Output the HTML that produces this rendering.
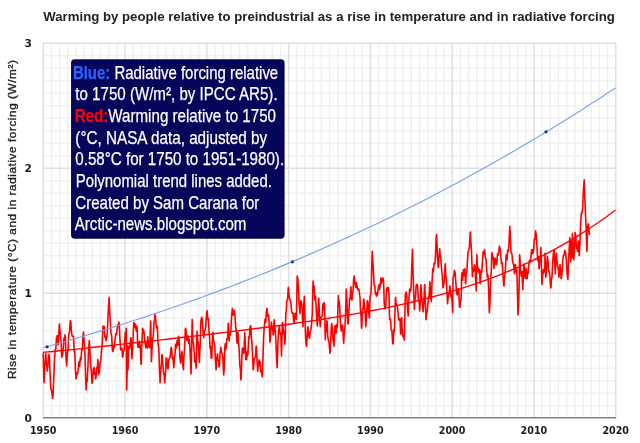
<!DOCTYPE html>
<html><head><meta charset="utf-8"><style>
html,body{margin:0;padding:0;background:#fff;}
body{width:640px;height:443px;overflow:hidden;position:relative;font-family:"Liberation Sans",Arial,sans-serif;}
svg{position:absolute;left:0;top:0;will-change:transform;}
.ax{font:bold 10.6px "DejaVu Sans","Liberation Sans",sans-serif;fill:#1a1a1a;}
.title{font:bold 13.4px "Liberation Sans",Arial,sans-serif;fill:#222;}
.ylab{font:11.8px "Liberation Sans",Arial,sans-serif;fill:#222;stroke:#222;stroke-width:0.35px;}
.bx{font:19px "Liberation Sans",Arial,sans-serif;fill:#fff;stroke:#fff;stroke-width:0.25px;}
.bl{fill:#2e62ff;stroke:#2e62ff;font-weight:bold;}
.rd{fill:#ff0000;stroke:#ff0000;font-weight:bold;}
</style></head><body>
<svg width="640" height="443" viewBox="0 0 640 443">
<path d="M51.48 43V418M59.66 43V418M67.84 43V418M76.01 43V418M84.19 43V418M92.37 43V418M100.55 43V418M108.73 43V418M116.91 43V418M133.26 43V418M141.44 43V418M149.62 43V418M157.80 43V418M165.98 43V418M174.16 43V418M182.34 43V418M190.51 43V418M198.69 43V418M215.05 43V418M223.23 43V418M231.41 43V418M239.59 43V418M247.76 43V418M255.94 43V418M264.12 43V418M272.30 43V418M280.48 43V418M296.84 43V418M305.01 43V418M313.19 43V418M321.37 43V418M329.55 43V418M337.73 43V418M345.91 43V418M354.09 43V418M362.26 43V418M378.62 43V418M386.80 43V418M394.98 43V418M403.16 43V418M411.34 43V418M419.51 43V418M427.69 43V418M435.87 43V418M444.05 43V418M460.41 43V418M468.59 43V418M476.76 43V418M484.94 43V418M493.12 43V418M501.30 43V418M509.48 43V418M517.66 43V418M525.84 43V418M542.19 43V418M550.37 43V418M558.55 43V418M566.73 43V418M574.91 43V418M583.09 43V418M591.26 43V418M599.44 43V418M607.62 43V418" stroke="#eeeeee" stroke-width="1.3" fill="none"/>
<path d="M43 405.80H616M43 393.30H616M43 380.80H616M43 368.30H616M43 355.80H616M43 343.30H616M43 330.80H616M43 318.30H616M43 305.80H616M43 280.80H616M43 268.30H616M43 255.80H616M43 243.30H616M43 230.80H616M43 218.30H616M43 205.80H616M43 193.30H616M43 180.80H616M43 155.80H616M43 143.30H616M43 130.80H616M43 118.30H616M43 105.80H616M43 93.30H616M43 80.80H616M43 68.30H616M43 55.80H616" stroke="#f2f2f2" stroke-width="1.5" fill="none"/>
<path d="M43.30 43V418M125.09 43V418M206.87 43V418M288.66 43V418M370.44 43V418M452.23 43V418M534.01 43V418M615.80 43V418M43 418.30H616M43 293.30H616M43 168.30H616M43 43.30H616" stroke="#dfdfdf" stroke-width="1.5" fill="none"/>
<path d="M43.20 353.0 L43.54 367.6 L44.00 382.6 L44.90 364.8 L45.80 353.7 L46.27 363.1 L46.95 366.3 L47.20 371.0 L47.63 368.4 L48.40 358.0 L48.99 354.3 L49.50 360.0 L50.36 380.0 L50.80 387.7 L51.72 391.3 L52.60 398.5 L53.08 394.1 L54.00 371.8 L54.45 360.0 L55.20 350.0 L55.81 348.6 L56.49 337.8 L57.30 335.5 L58.00 345.0 L58.53 341.3 L59.22 325.5 L59.50 324.0 L59.90 330.4 L60.50 335.0 L61.26 344.9 L61.70 357.3 L62.62 354.8 L63.50 345.0 L63.99 338.4 L64.67 341.4 L65.00 334.8 L65.35 337.8 L66.03 358.7 L66.70 366.0 L67.39 353.7 L68.08 349.6 L68.50 340.0 L68.76 334.0 L69.44 332.6 L70.30 320.6 L70.80 321.8 L71.50 332.0 L72.17 336.1 L73.00 336.0 L73.53 336.6 L74.21 351.8 L74.50 350.0 L74.89 355.2 L75.57 372.6 L76.10 379.0 L76.94 372.7 L77.62 373.9 L78.30 369.0 L78.98 361.6 L79.66 366.4 L80.00 362.0 L80.34 357.9 L81.03 359.7 L81.71 349.5 L82.00 350.0 L82.39 350.0 L83.07 334.9 L83.50 332.0 L83.75 336.9 L84.50 345.0 L85.12 359.0 L85.80 382.0 L86.20 389.9 L86.48 382.9 L87.16 381.3 L88.00 365.0 L88.52 351.2 L89.30 340.6 L90.00 352.0 L90.57 363.6 L91.25 370.1 L92.00 383.4 L92.61 381.0 L93.29 369.1 L94.20 367.5 L94.66 374.4 L95.34 372.9 L95.60 379.0 L96.02 377.0 L96.70 367.6 L97.38 367.7 L97.80 359.5 L98.06 361.7 L98.50 374.7 L99.43 371.4 L100.11 361.9 L100.50 362.0 L100.79 361.1 L101.47 350.8 L102.00 348.0 L103.00 326.0 L103.52 329.7 L104.20 326.4 L104.50 332.0 L104.88 337.3 L105.56 336.1 L106.00 340.6 L106.92 336.9 L107.50 328.0 L108.29 310.7 L109.10 297.2 L109.65 310.3 L110.20 320.0 L111.00 333.0 L111.70 335.9 L112.38 350.4 L113.00 351.6 L113.74 345.7 L114.42 347.7 L115.00 340.0 L115.78 333.9 L116.47 334.5 L117.00 330.0 L117.83 324.8 L118.51 325.8 L118.80 322.0 L119.19 323.8 L120.00 340.0 L120.56 348.8 L121.00 350.0 L121.92 348.3 L122.60 357.1 L123.00 356.0 L123.28 351.3 L123.96 351.3 L124.50 345.0 L125.33 332.4 L126.01 335.8 L126.30 328.3 L126.70 389.9 L127.37 362.5 L127.90 345.8 L128.00 370.0 L128.50 347.0 L129.42 348.8 L130.00 345.0 L130.80 337.7 L131.00 337.7 L131.46 345.9 L131.90 358.8 L132.82 344.6 L133.70 323.2 L134.19 322.6 L134.87 327.4 L135.55 324.2 L135.80 327.6 L136.23 331.2 L136.91 326.4 L137.30 332.0 L137.59 342.5 L138.00 347.2 L138.28 342.7 L138.96 347.3 L139.50 341.4 L140.32 347.7 L141.00 364.3 L141.30 363.8 L141.68 348.6 L142.60 328.3 L143.05 332.5 L143.73 330.2 L144.50 337.7 L145.09 343.7 L146.00 347.8 L146.45 343.2 L147.14 348.2 L147.82 336.9 L148.10 340.6 L148.50 346.7 L149.18 344.2 L149.60 347.8 L149.86 344.2 L150.70 321.0 L151.40 361.7 L151.91 350.4 L152.70 338.0 L153.27 336.9 L153.95 322.7 L154.63 319.8 L154.90 314.6 L155.31 315.3 L156.10 324.7 L156.68 328.1 L157.10 327.6 L157.36 326.6 L158.04 344.2 L158.72 347.7 L159.00 353.6 L159.40 367.5 L160.10 382.6 L160.77 369.8 L161.45 363.9 L161.80 354.5 L162.13 355.2 L162.90 364.6 L163.49 372.2 L164.17 375.4 L164.70 382.6 L165.54 372.3 L166.20 358.0 L166.90 358.3 L167.58 368.6 L168.10 368.9 L168.95 359.0 L169.50 358.8 L170.31 356.0 L171.20 347.2 L171.67 348.9 L172.35 358.7 L172.70 358.8 L173.03 357.3 L173.72 367.7 L174.10 364.6 L174.40 358.7 L175.08 353.1 L175.60 344.3 L176.30 348.0 L177.12 340.4 L177.50 342.0 L177.81 345.1 L178.50 336.2 L179.17 340.1 L179.85 357.4 L180.60 363.0 L181.21 356.3 L182.00 351.6 L182.58 362.8 L183.50 369.6 L183.94 356.2 L184.62 347.2 L185.40 328.3 L185.98 329.4 L186.67 339.1 L187.10 340.6 L188.03 335.7 L188.71 343.5 L189.30 339.1 L190.07 350.7 L191.00 374.0 L191.44 358.4 L192.20 319.6 L192.90 340.6 L193.48 343.6 L194.40 354.5 L194.84 362.1 L195.53 360.7 L196.20 368.2 L197.00 331.2 L197.57 339.7 L198.25 342.7 L198.70 350.7 L199.40 362.4 L200.30 340.9 L200.90 321.0 L201.66 317.4 L202.30 318.9 L203.02 331.6 L203.80 337.7 L204.39 331.1 L205.20 330.5 L205.75 325.7 L206.60 312.4 L207.11 310.7 L207.79 319.8 L208.10 318.2 L208.48 319.0 L209.16 334.3 L209.50 336.2 L210.00 348.0 L210.52 346.8 L211.20 358.2 L211.70 358.2 L212.56 336.0 L212.90 332.2 L213.25 339.1 L214.00 342.0 L214.61 344.2 L215.00 351.0 L215.29 358.4 L216.10 369.8 L216.65 358.6 L217.50 353.9 L218.02 360.2 L218.70 361.6 L219.00 366.9 L219.38 366.2 L220.06 353.8 L220.80 347.4 L221.42 352.1 L222.30 353.9 L222.79 356.9 L223.70 374.9 L224.15 369.8 L224.83 347.7 L225.20 343.8 L225.51 349.8 L226.20 348.0 L226.88 338.6 L227.30 339.5 L227.56 338.6 L228.24 323.2 L228.50 323.5 L228.92 336.7 L229.20 341.0 L229.60 334.5 L230.20 335.0 L230.97 328.5 L231.65 315.4 L232.40 308.3 L233.01 315.1 L233.80 313.4 L234.37 310.2 L234.90 314.8 L235.74 328.8 L236.00 327.8 L236.42 332.2 L236.70 340.9 L237.10 343.2 L237.78 332.6 L238.20 333.7 L238.46 341.9 L239.14 348.8 L239.83 366.0 L240.51 370.4 L240.80 379.9 L241.19 376.6 L241.87 355.6 L242.50 348.1 L243.23 353.5 L244.00 352.5 L244.70 332.9 L245.28 342.4 L245.80 359.7 L246.64 359.5 L247.32 351.4 L247.60 355.3 L248.01 352.7 L248.69 339.0 L249.00 336.6 L249.37 338.0 L250.05 327.1 L250.80 325.6 L251.41 337.9 L251.90 342.3 L252.78 357.9 L253.10 369.8 L253.46 369.3 L254.14 359.1 L254.80 358.2 L255.50 356.7 L256.18 346.1 L256.50 347.4 L256.87 357.9 L257.70 371.2 L258.23 364.9 L259.10 359.7 L259.59 365.8 L260.27 362.0 L260.60 368.4 L260.95 372.3 L261.64 372.1 L262.30 377.0 L263.00 356.9 L263.50 339.5 L264.20 327.8 L265.04 319.0 L265.73 322.5 L266.41 311.3 L267.10 308.3 L267.77 316.4 L268.50 314.8 L269.13 323.0 L270.00 342.3 L270.50 337.0 L271.40 322.0 L272.10 329.3 L272.54 327.6 L273.22 334.8 L273.60 333.7 L273.90 323.7 L274.30 319.9 L274.59 327.0 L275.27 330.0 L275.80 339.5 L276.63 358.6 L277.20 367.6 L277.99 342.2 L278.60 330.8 L279.40 326.4 L280.04 333.6 L280.80 333.0 L281.50 356.1 L282.30 322.7 L282.76 323.1 L283.45 334.0 L283.70 333.0 L284.13 331.3 L284.81 344.2 L285.10 340.9 L285.49 325.3 L285.90 312.6 L286.17 312.0 L286.85 300.6 L287.53 300.0 L288.22 288.3 L288.50 287.3 L288.90 293.6 L289.50 298.9 L290.26 299.6 L291.00 304.7 L291.62 311.4 L292.40 313.4 L292.99 312.9 L293.80 322.0 L294.35 322.5 L295.03 313.3 L295.30 313.4 L295.71 317.3 L296.40 319.5 L297.20 276.0 L297.76 278.5 L298.50 289.0 L299.12 304.2 L299.60 307.8 L300.00 313.7 L300.48 302.7 L301.00 300.6 L302.00 305.0 L302.53 319.3 L303.00 326.7 L303.89 302.7 L304.40 296.2 L305.40 332.5 L305.94 343.4 L306.60 346.2 L307.30 333.5 L308.00 326.7 L308.66 335.9 L309.50 338.2 L310.03 332.2 L310.90 329.6 L311.39 326.1 L312.30 313.7 L312.75 291.8 L313.10 281.1 L313.43 285.8 L314.12 286.2 L314.50 293.4 L314.80 300.0 L315.48 296.3 L316.00 305.0 L316.84 320.7 L317.40 326.0 L318.20 308.2 L318.80 298.4 L319.57 317.5 L320.30 326.7 L320.93 317.6 L321.70 316.6 L322.29 315.7 L322.60 307.9 L322.98 303.8 L323.66 310.2 L324.34 302.5 L324.60 304.9 L325.02 327.9 L325.30 339.7 L325.70 332.1 L326.38 330.1 L326.80 320.9 L327.06 321.4 L327.75 336.1 L328.50 341.1 L329.11 342.8 L330.00 353.4 L330.47 347.0 L331.40 325.2 L331.84 323.5 L332.60 333.9 L333.20 341.2 L334.00 346.2 L334.70 326.7 L335.24 325.6 L335.92 333.5 L336.20 332.5 L336.61 324.8 L337.29 327.8 L337.60 322.3 L337.97 307.3 L338.40 295.5 L338.65 300.2 L339.33 301.6 L339.80 310.0 L340.70 326.3 L341.20 331.0 L342.06 325.7 L342.70 325.2 L343.42 339.9 L343.70 343.3 L344.10 335.3 L344.90 328.1 L345.47 315.8 L346.30 289.0 L346.83 298.8 L347.70 323.8 L348.19 323.9 L348.80 313.7 L349.56 298.3 L350.24 298.2 L350.60 288.3 L350.92 286.7 L351.60 299.8 L352.00 300.0 L352.28 293.6 L352.96 292.4 L353.64 279.2 L354.20 276.0 L355.01 283.9 L355.70 287.6 L356.37 282.6 L357.10 286.1 L357.73 289.7 L358.60 289.0 L359.10 290.5 L360.00 297.7 L360.46 310.2 L361.14 316.8 L361.50 328.1 L361.82 326.5 L362.51 310.8 L362.90 307.9 L363.19 308.1 L363.60 299.1 L363.87 299.4 L364.55 309.1 L364.90 310.7 L365.23 313.0 L365.80 326.7 L366.59 316.2 L367.30 300.6 L367.96 301.6 L368.70 312.3 L369.40 318.0 L370.10 296.2 L370.68 295.0 L371.30 287.6 L372.05 256.3 L372.30 251.4 L372.73 260.8 L373.41 270.2 L373.80 278.9 L374.09 285.2 L374.77 285.6 L375.20 291.9 L375.45 294.4 L376.14 292.8 L376.60 296.2 L377.50 294.7 L378.10 289.0 L378.86 284.8 L379.54 289.7 L380.30 284.7 L380.91 278.0 L381.59 283.1 L382.20 278.3 L382.95 278.1 L383.60 282.0 L384.30 304.5 L385.00 308.7 L385.80 306.0 L386.50 290.0 L387.04 287.7 L387.72 291.0 L388.00 287.7 L388.40 287.6 L389.00 294.0 L389.40 314.6 L389.77 319.7 L390.45 319.2 L390.80 323.0 L391.13 330.0 L391.81 330.2 L392.70 343.5 L393.17 344.0 L393.86 329.7 L394.20 331.9 L394.54 326.3 L395.22 302.8 L395.60 297.2 L395.90 302.4 L396.60 304.5 L397.26 306.1 L398.10 313.1 L398.63 319.9 L399.50 318.9 L399.99 319.0 L400.67 333.9 L401.00 331.9 L401.35 320.3 L401.70 317.5 L402.03 327.9 L402.80 336.2 L403.40 335.7 L404.30 339.9 L404.76 320.7 L405.30 294.9 L406.12 291.9 L406.70 293.5 L407.49 308.2 L408.20 316.0 L408.85 299.6 L409.60 289.1 L410.21 291.6 L411.10 287.7 L411.58 271.4 L412.50 249.4 L412.94 269.6 L413.50 286.0 L414.40 309.5 L414.98 299.5 L415.67 295.5 L416.10 285.5 L417.03 284.3 L417.60 286.2 L418.10 295.8 L418.39 300.9 L419.07 301.0 L419.70 311.0 L420.44 298.8 L420.90 284.8 L421.90 300.7 L422.48 303.1 L423.10 311.7 L423.84 302.5 L424.53 284.7 L424.80 284.8 L425.21 299.1 L426.00 319.6 L426.57 313.4 L427.25 311.8 L427.70 305.8 L428.62 297.7 L429.10 295.8 L429.90 281.9 L430.66 296.9 L431.30 301.6 L432.02 282.8 L432.70 268.9 L433.39 272.0 L433.80 266.0 L434.07 263.2 L434.90 263.8 L435.43 257.2 L436.11 239.4 L436.60 234.5 L437.50 257.3 L438.16 266.6 L438.50 267.5 L438.84 259.4 L439.70 248.7 L440.20 254.9 L440.70 257.3 L441.80 271.8 L442.25 275.4 L442.90 287.7 L443.61 285.6 L444.30 280.5 L444.97 267.0 L445.30 263.8 L445.65 274.2 L446.30 280.0 L447.02 291.7 L447.50 303.7 L448.60 293.5 L449.06 294.4 L449.74 285.7 L450.20 288.0 L451.11 297.4 L451.50 294.9 L451.79 296.6 L452.70 312.4 L453.00 277.6 L453.83 276.1 L454.40 270.3 L455.20 273.2 L455.90 283.4 L456.56 293.1 L457.30 294.9 L457.92 288.8 L458.80 289.1 L459.50 307.3 L459.97 307.2 L460.65 299.6 L461.00 300.0 L461.33 291.9 L461.60 277.6 L462.01 272.8 L462.69 280.1 L463.37 269.8 L463.80 273.2 L464.06 275.5 L464.74 268.7 L465.00 269.9 L465.42 282.8 L465.70 283.8 L466.10 274.5 L466.78 272.9 L467.60 258.4 L468.14 251.2 L468.80 251.0 L469.51 245.9 L470.19 232.8 L470.50 232.0 L470.87 242.6 L471.50 251.0 L472.40 276.6 L472.92 268.5 L473.30 268.0 L473.60 271.1 L474.40 264.9 L474.96 265.8 L475.40 275.0 L476.30 291.0 L476.80 254.7 L477.69 271.5 L478.00 271.4 L478.37 268.2 L479.05 273.2 L479.50 269.9 L480.20 283.8 L481.09 270.9 L481.50 272.0 L481.78 272.2 L482.30 264.1 L483.14 251.8 L483.50 252.6 L483.82 254.4 L484.50 249.5 L484.90 252.6 L485.18 257.4 L486.00 258.4 L486.70 270.0 L487.30 277.0 L488.00 275.2 L488.59 287.9 L489.30 312.7 L489.95 302.4 L490.30 290.0 L490.64 280.8 L491.00 275.1 L491.32 270.2 L491.70 256.2 L492.00 252.6 L492.68 258.7 L493.20 256.9 L493.90 268.5 L494.73 258.1 L495.30 258.4 L496.09 264.8 L496.80 264.1 L497.45 254.1 L497.90 255.5 L498.81 251.9 L499.40 246.1 L500.18 248.8 L500.80 256.9 L501.54 263.8 L501.80 262.7 L502.22 262.8 L502.90 272.8 L503.59 284.7 L504.00 286.0 L504.27 279.5 L505.00 274.0 L505.63 265.7 L505.90 258.4 L506.31 254.7 L506.99 260.0 L507.30 256.9 L507.67 250.3 L508.40 251.1 L509.04 242.9 L509.80 226.3 L510.40 236.3 L511.00 252.6 L512.00 254.0 L512.45 260.3 L513.00 262.7 L513.81 265.6 L514.10 269.9 L514.49 273.6 L515.17 264.2 L515.60 265.6 L515.85 272.0 L516.53 268.8 L517.00 275.7 L518.00 314.9 L518.58 304.8 L519.20 283.8 L519.60 254.7 L519.94 258.1 L520.60 270.8 L521.31 275.9 L521.90 271.4 L522.80 289.6 L523.35 273.7 L524.00 264.1 L524.71 275.5 L525.30 278.5 L526.08 268.4 L526.40 269.9 L526.76 278.4 L527.10 278.7 L527.44 272.7 L528.12 273.5 L528.60 265.6 L529.48 260.4 L530.17 262.1 L530.80 258.4 L531.53 250.0 L532.20 249.7 L532.89 253.6 L533.60 251.1 L534.25 239.5 L534.94 239.3 L535.50 230.9 L536.30 235.0 L537.00 246.8 L537.66 260.4 L538.00 259.8 L538.34 256.6 L539.03 268.9 L539.40 265.6 L539.71 259.8 L540.39 255.7 L540.90 247.5 L541.90 284.5 L542.43 276.6 L543.30 269.9 L543.80 273.0 L544.48 268.7 L544.80 270.8 L545.00 253.4 L545.80 277.1 L546.52 269.9 L547.40 256.6 L547.89 259.3 L548.57 271.7 L549.00 270.8 L549.93 275.8 L550.61 287.9 L551.00 287.4 L551.29 280.1 L551.98 277.5 L552.60 264.5 L553.34 253.6 L554.20 250.3 L554.70 263.9 L555.30 274.0 L556.06 256.3 L556.40 253.4 L556.75 258.9 L557.60 266.0 L558.11 267.8 L558.90 277.1 L559.47 272.8 L560.00 264.5 L560.84 272.7 L561.10 278.7 L561.52 277.8 L562.40 267.7 L562.88 259.1 L563.60 255.0 L564.24 254.9 L564.70 250.3 L565.61 253.0 L566.30 259.8 L566.97 272.4 L567.90 279.5 L568.33 265.6 L568.70 256.6 L569.01 252.7 L569.80 237.6 L570.38 251.5 L570.70 262.0 L571.30 240.7 L571.74 256.1 L572.00 258.0 L572.40 233.2 L573.10 242.8 L573.80 259.8 L574.47 249.9 L575.10 232.5 L575.83 235.9 L576.20 245.0 L576.51 248.8 L577.19 245.2 L577.50 251.5 L577.87 248.9 L578.30 241.0 L578.56 241.8 L579.20 255.6 L579.92 243.6 L580.80 220.3 L581.28 213.0 L581.90 213.5 L582.64 207.9 L582.90 202.8 L583.33 192.1 L584.20 179.8 L584.69 194.7 L585.30 209.5 L586.20 230.0 L586.90 251.5 L587.60 227.0 L588.30 223.7 L589.00 230.0 L589.60 235.2" stroke="#ff0000" stroke-width="1.6" fill="none" stroke-linejoin="round"/>
<path d="M43.0 352.4 L52.7 351.5 L62.4 350.5 L72.1 349.6 L81.8 348.6 L91.5 347.5 L101.2 346.5 L110.9 345.5 L120.6 344.4 L130.3 343.3 L140.0 342.2 L149.7 341.2 L159.4 340.1 L169.1 339.0 L178.8 337.8 L188.6 336.7 L198.3 335.6 L208.0 334.5 L217.7 333.3 L227.4 332.1 L237.1 330.9 L246.8 329.7 L256.5 328.5 L266.2 327.3 L275.9 326.0 L285.6 324.7 L295.3 323.3 L305.0 321.9 L314.7 320.5 L324.4 319.0 L334.1 317.4 L343.8 315.8 L353.5 314.1 L363.2 312.4 L372.9 310.5 L382.6 308.6 L392.3 306.6 L402.0 304.4 L411.7 302.2 L421.4 299.8 L431.1 297.3 L440.8 294.6 L450.5 291.8 L460.2 288.9 L469.9 285.7 L479.7 282.4 L489.4 278.9 L499.1 275.2 L508.8 271.2 L518.5 267.1 L528.2 262.7 L537.9 258.0 L547.6 253.1 L557.3 247.9 L567.0 242.4 L576.7 236.6 L586.4 230.5 L596.1 224.0 L605.8 217.2 L615.5 210.0" stroke="#ff0000" stroke-width="1.4" fill="none"/>
<path d="M43.0 347.8 L50.2 345.8 L57.5 343.7 L64.7 341.7 L72.0 339.6 L79.2 337.5 L86.5 335.3 L93.7 333.1 L101.0 330.9 L108.2 328.7 L115.5 326.4 L122.7 324.2 L130.0 321.8 L137.2 319.5 L144.5 317.1 L151.7 314.7 L158.9 312.3 L166.2 309.8 L173.4 307.3 L180.7 304.8 L187.9 302.2 L195.2 299.6 L202.4 297.0 L209.7 294.3 L216.9 291.6 L224.2 288.9 L231.4 286.2 L238.7 283.4 L245.9 280.5 L253.2 277.7 L260.4 274.8 L267.7 271.9 L274.9 268.9 L282.1 265.9 L289.4 262.9 L296.6 259.9 L303.9 256.8 L311.1 253.6 L318.4 250.5 L325.6 247.3 L332.9 244.0 L340.1 240.8 L347.4 237.5 L354.6 234.1 L361.9 230.7 L369.1 227.3 L376.4 223.9 L383.6 220.4 L390.8 216.9 L398.1 213.3 L405.3 209.7 L412.6 206.1 L419.8 202.4 L427.1 198.7 L434.3 194.9 L441.6 191.1 L448.8 187.3 L456.1 183.4 L463.3 179.5 L470.6 175.5 L477.8 171.6 L485.1 167.5 L492.3 163.4 L499.6 159.3 L506.8 155.2 L514.0 151.0 L521.3 146.8 L528.5 142.5 L535.8 138.2 L543.0 133.8 L550.3 129.4 L557.5 125.0 L564.8 120.5 L572.0 115.9 L579.3 111.4 L586.5 106.8 L593.8 102.1 L601.0 97.4 L608.3 92.6 L615.5 87.9" stroke="#79a3ec" stroke-width="1.15" fill="none"/>
<circle cx="47.1" cy="346.8" r="1.6" fill="#0b3a8e"/>
<circle cx="292.4" cy="261.8" r="1.6" fill="#0b3a8e"/>
<circle cx="546.0" cy="131.8" r="1.6" fill="#0b3a8e"/>
<path d="M43 417.6H616" stroke="#7c7c7c" stroke-width="1.3" fill="none"/>
<text x="43.2" y="434.3" text-anchor="middle" class="ax" textLength="26.6" lengthAdjust="spacingAndGlyphs">1950</text>
<text x="125.0" y="434.3" text-anchor="middle" class="ax" textLength="26.6" lengthAdjust="spacingAndGlyphs">1960</text>
<text x="206.8" y="434.3" text-anchor="middle" class="ax" textLength="26.6" lengthAdjust="spacingAndGlyphs">1970</text>
<text x="288.6" y="434.3" text-anchor="middle" class="ax" textLength="26.6" lengthAdjust="spacingAndGlyphs">1980</text>
<text x="370.3" y="434.3" text-anchor="middle" class="ax" textLength="26.6" lengthAdjust="spacingAndGlyphs">1990</text>
<text x="452.1" y="434.3" text-anchor="middle" class="ax" textLength="26.6" lengthAdjust="spacingAndGlyphs">2000</text>
<text x="533.9" y="434.3" text-anchor="middle" class="ax" textLength="26.6" lengthAdjust="spacingAndGlyphs">2010</text>
<text x="615.7" y="434.3" text-anchor="middle" class="ax" textLength="26.6" lengthAdjust="spacingAndGlyphs">2020</text>
<text x="31.8" y="422.2" text-anchor="end" class="ax">0</text>
<text x="31.8" y="297.2" text-anchor="end" class="ax">1</text>
<text x="31.8" y="172.2" text-anchor="end" class="ax">2</text>
<text x="31.8" y="47.2" text-anchor="end" class="ax">3</text>
<text x="43.3" y="21.0" class="title" textLength="571.5" lengthAdjust="spacingAndGlyphs">Warming by people relative to preindustrial as a rise in temperature and in radiative forcing</text>
<text transform="translate(15.8 219.6) rotate(-90)" text-anchor="middle" class="ylab" textLength="319" lengthAdjust="spacing">Rise in temperature (°C) and in radiative forcing (W/m²)</text>
<rect x="71.5" y="59.8" width="212.6" height="178.4" rx="2.6" fill="#05055a" stroke="#020235" stroke-width="0.9"/>
<text x="72.9" y="78.5" class="bx" textLength="205.3" lengthAdjust="spacingAndGlyphs"><tspan class="bl">Blue:</tspan> Radiative forcing relative</text>
<text x="75.3" y="100.2" class="bx" textLength="202.3" lengthAdjust="spacingAndGlyphs">to 1750 (W/m², by IPCC AR5).</text>
<text x="74.7" y="121.9" class="bx" textLength="201.3" lengthAdjust="spacingAndGlyphs"><tspan class="rd">Red:</tspan>Warming relative to 1750</text>
<text x="75.3" y="143.6" class="bx" textLength="191.9" lengthAdjust="spacingAndGlyphs">(°C, NASA data, adjusted by</text>
<text x="75.3" y="165.3" class="bx" textLength="208.8" lengthAdjust="spacingAndGlyphs">0.58°C for 1750 to 1951-1980).</text>
<text x="75.7" y="187.0" class="bx" textLength="196.2" lengthAdjust="spacingAndGlyphs">Polynomial trend lines added.</text>
<text x="75.3" y="208.7" class="bx" textLength="184.0" lengthAdjust="spacingAndGlyphs">Created by Sam Carana for</text>
<text x="74.8" y="230.4" class="bx" textLength="171.6" lengthAdjust="spacingAndGlyphs">Arctic-news.blogspot.com</text>
</svg>

</body></html>
